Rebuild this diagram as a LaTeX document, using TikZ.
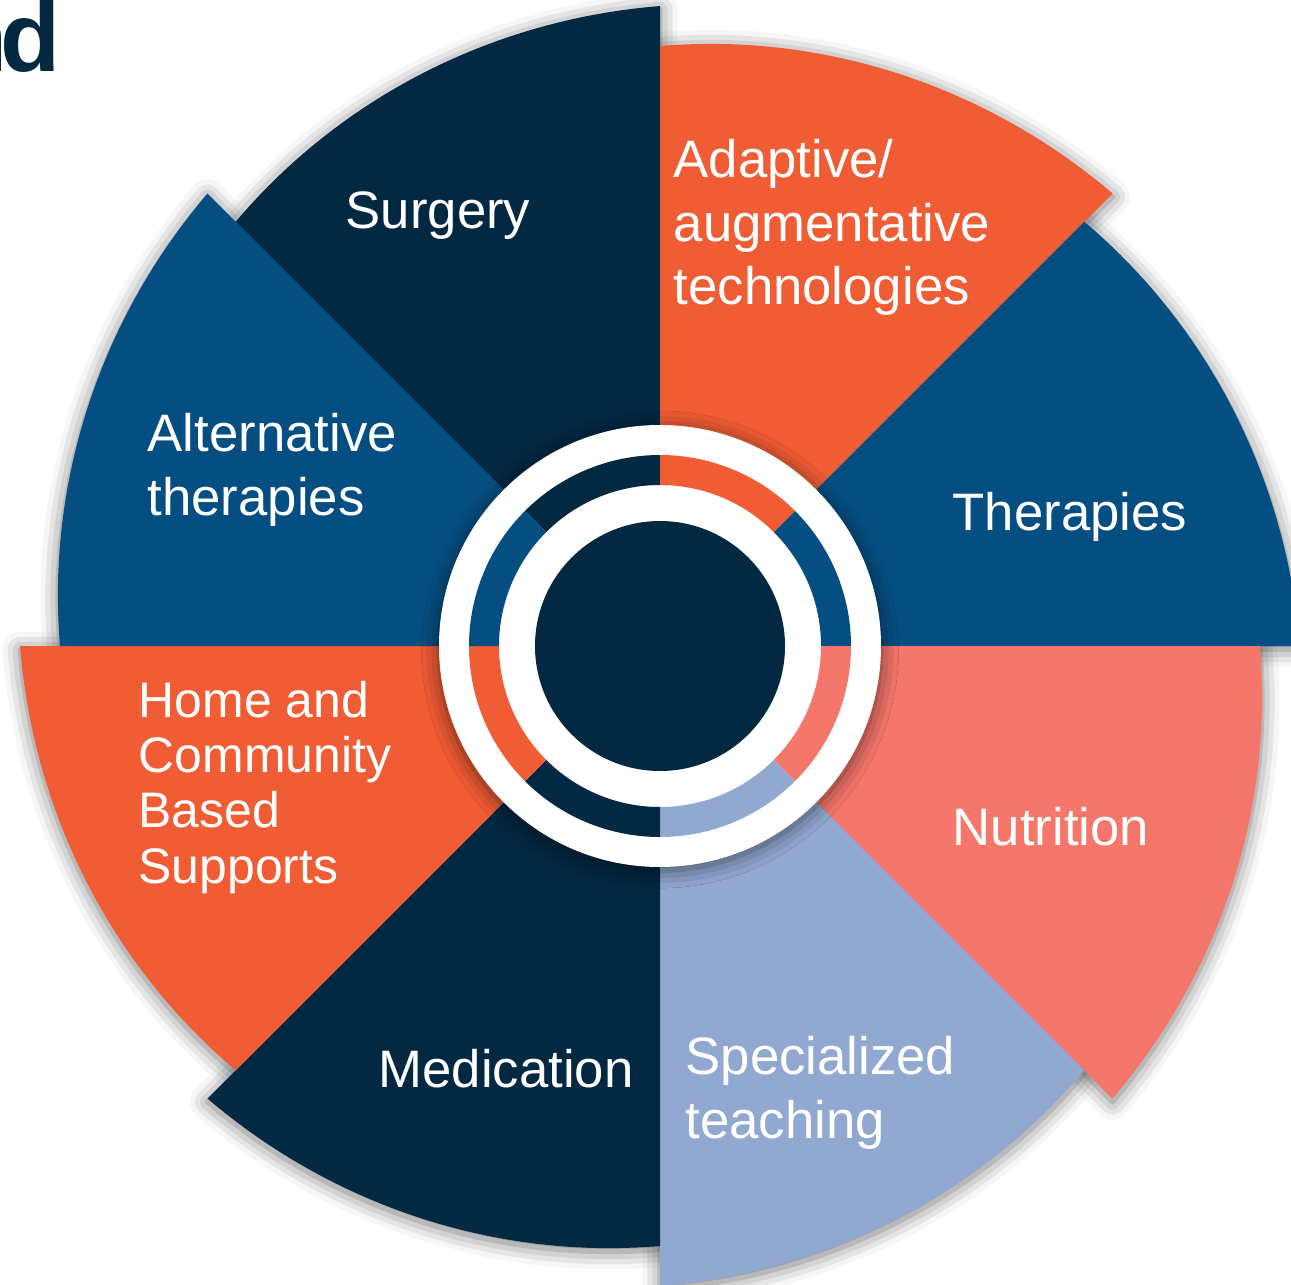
\documentclass[tikz,border=0pt]{standalone}
\usepackage{fontspec}
\setmainfont{Liberation Sans}
\usepackage{tikz}
\usetikzlibrary{shadows.blur}
\definecolor{navy}{HTML}{032842}
\definecolor{midblue}{HTML}{044E82}
\definecolor{flame}{HTML}{F05C34}
\definecolor{salmon}{HTML}{F5766A}
\definecolor{paleblue}{HTML}{91A9D1}

\begin{document}
\begin{tikzpicture}[
  soft/.style={blur shadow={shadow xshift=0pt, shadow yshift=-1pt,
    shadow blur radius=5pt, shadow opacity=55}},
  label/.style={text=white, inner sep=0pt, anchor=base west, align=left,
    font=\fontsize{15}{18.2}\selectfont}]
\useasboundingbox (-6.60,-6.38) rectangle (6.31,6.46);
\clip (-6.60,-6.38) rectangle (6.31,6.46);

\node[anchor=base east, inner sep=0pt, text=navy,
  font=\fontsize{28}{32}\selectfont\bfseries] (title) at (-5.99,5.74) {an\kern-0.08em d};

% shadows first, then the eight wedges
\foreach \a in {135,90,45,0,-45,-90,-135,180}
  \path[soft] (0,0) -- plot[domain=\a:\a-45, samples=40] (\x:{6+0.4*(\a-\x)/45}) -- cycle;
\foreach \a/\col in {135/navy, 90/flame, 45/midblue, 0/salmon,
                     -45/paleblue, -90/navy, -135/flame, 180/midblue}
  \fill[\col] (0,0) -- plot[domain=\a:\a-45, samples=40] (\x:{6+0.4*(\a-\x)/45}) -- cycle;

% hub
\fill[white, soft] (0,0) circle (2.21);
\foreach \a/\col in {135/navy, 90/flame, 45/midblue, 0/salmon,
                     -45/paleblue, -90/navy, -135/flame, 180/midblue}
  \fill[\col] (\a:1.91) arc[start angle=\a, end angle=\a-45, radius=1.91]
    -- (\a-45:1.61) arc[start angle=\a-45, end angle=\a, radius=1.61] -- cycle;
\fill[navy] (0,0) circle (1.25);

% base = baseline of the last line
\node[label] (surgery) at (-3.15,4.18) {Surgery};
\node[label] (adaptive) at (0.13,3.41) {Adaptive/\\augmentative\\technologies};
\node[label] (therapies) at (2.92,1.16) {Therapies};
\node[label] (nutrition) at (2.92,-1.99) {Nutrition};
\node[label] (teaching) at (0.25,-4.92) {Specialized\\teaching};
\node[label] (medication) at (-2.82,-4.41) {Medication};
\node[label, font=\fontsize{14.2}{15.7}\selectfont] (home) at (-5.22,-2.37)
  {Home and\\Community\\Based\\Supports};
\node[label] (alternative) at (-5.13,1.31) {Alternative\\therapies};
\end{tikzpicture}
\end{document}
